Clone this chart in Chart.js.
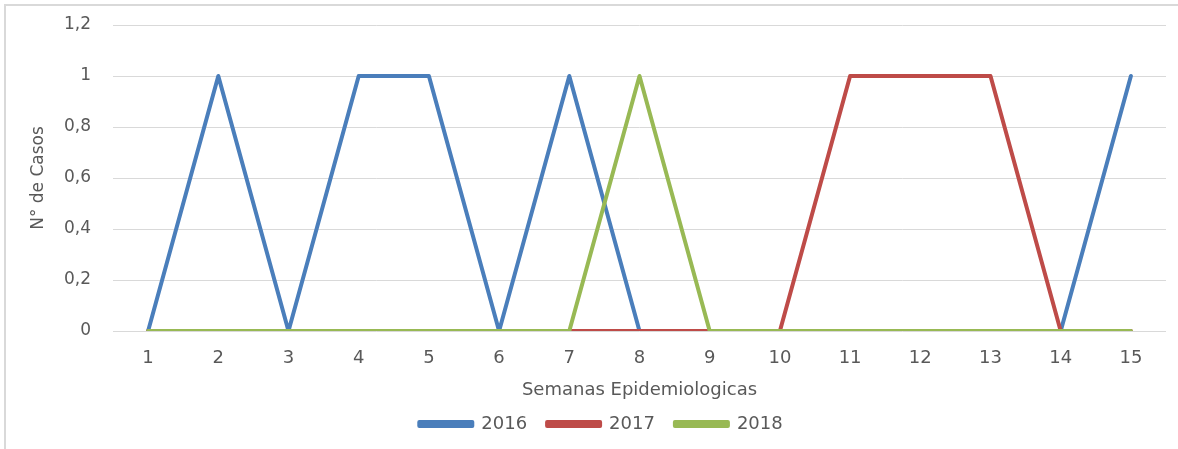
<!DOCTYPE html>
<html>
<head>
<meta charset="utf-8">
<script src="https://cdn.jsdelivr.net/npm/chart.js@4.4.0/dist/chart.umd.min.js"></script>
<style>
  html, body { margin: 0; padding: 0; background: #fff; }
  #frame {
    position: absolute; left: 4px; top: 4px; width: 1180px; height: 450px;
    border-left: 2px solid #d9d9d9; border-top: 2px solid #d9d9d9;
  }
  #wrap { position: absolute; left: 0; top: 0; width: 1178px; height: 449px; }
</style>
</head>
<body>
<div id="frame"></div>
<div id="wrap"><canvas id="chart-casos"></canvas></div>
<script>
// DATA ---------------------------------------------------------------
const semanas = ['1','2','3','4','5','6','7','8','9','10','11','12','13','14','15'];
const casos2016 = [0, 1, 0, 1, 1, 0, 1, 0, 0, 0, 0, 0, 0, 0, 1];
const casos2017 = [0, 0, 0, 0, 0, 0, 0, 0, 0, 0, 1, 1, 1, 0, 0];
const casos2018 = [0, 0, 0, 0, 0, 0, 0, 1, 0, 0, 0, 0, 0, 0, 0];

const textColor = '#595959';
const gridColor = '#d9d9d9';
const fontFamily = '"DejaVu Sans", sans-serif';

// later series are drawn on top (lower order = on top)
function serie(label, data, color, order) {
    return {
        label: label,
        data: data,
        borderColor: color,
        backgroundColor: color,
        borderWidth: 4,
        pointRadius: 0,
        tension: 0,
        order: order,
        borderCapStyle: 'round',
        borderJoinStyle: 'round'
    };
}

function initializeChart() {
    const canvas = document.getElementById('chart-casos');
    const ctx = canvas.getContext('2d');

    new Chart(ctx, {
        type: 'line',
        data: {
            labels: semanas,
            datasets: [
                serie('2016', casos2016, '#4a7ebb', 3),
                serie('2017', casos2017, '#be4b48', 2),
                serie('2018', casos2018, '#98b954', 1)
            ]
        },
        options: {
            responsive: true,
            maintainAspectRatio: false,
            animation: false,
            layout: {
                padding: { left: 36, right: 12, top: 25, bottom: 6 }
            },
            scales: {
                x: {
                    offset: true,
                    grid: { display: false },
                    border: { display: false },
                    ticks: {
                        color: textColor,
                        padding: 9,
                        maxRotation: 0,
                        font: { family: fontFamily, size: 18 }
                    },
                    title: {
                        display: true,
                        text: 'Semanas Epidemiologicas',
                        color: textColor,
                        padding: { top: 0, bottom: -6 },
                        font: { family: fontFamily, size: 18 }
                    },
                    afterFit: function (scale) { scale.height = 64; }
                },
                y: {
                    min: 0,
                    max: 1.2,
                    grid: { color: gridColor, lineWidth: 1, drawTicks: false },
                    border: { display: false },
                    ticks: {
                        stepSize: 0.2,
                        color: textColor,
                        padding: 22,
                        font: { family: fontFamily, size: 17 },
                        callback: function (v) {
                            return String(Math.round(v * 10) / 10).replace('.', ',');
                        }
                    },
                    title: {
                        display: true,
                        text: 'N° de Casos',
                        color: textColor,
                        padding: { top: -8, bottom: 0 },
                        font: { family: fontFamily, size: 17 }
                    },
                    afterFit: function (scale) {
                        scale.width = 77;
                        scale.paddingTop = 0;
                        scale.paddingBottom = 0;
                    }
                }
            },
            plugins: {
                legend: {
                    position: 'bottom',
                    labels: {
                        color: textColor,
                        boxWidth: 53,
                        boxHeight: 4,
                        padding: 20,
                        font: { family: fontFamily, size: 18 },
                        sort: function (a, b) { return a.datasetIndex - b.datasetIndex; }
                    }
                },
                tooltip: { enabled: false }
            }
        }
    });
}

initializeChart();
</script>
</body>
</html>
